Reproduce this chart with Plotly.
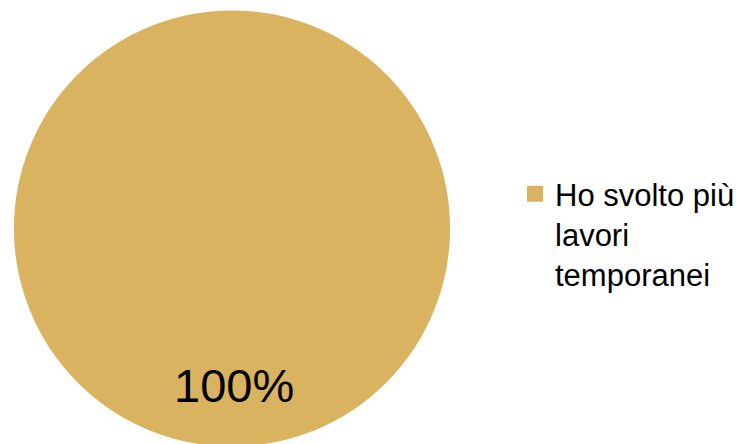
import plotly.graph_objects as go

labels = ["Ho svolto più<br>lavori<br>temporanei"]
values = [1]
colors = ["#DAB360"]

W, H = 742, 444
total = sum(values)
pct_text = [f"{v / total * 100:.0f}%" for v in values]

# page is drawn with an 8px offset; positions below are in figure pixels
fig = go.Figure(go.Pie(
    labels=labels,
    values=values,
    marker=dict(colors=colors, line=dict(color=colors[0], width=4)),
    textinfo="none",
    sort=False,
    direction="clockwise",
    domain=dict(x=[8 / W, 440 / W], y=[1 - 436.5 / H, 1 - 4.5 / H]),
    showlegend=True,
    hoverinfo="label+percent",
))

fig.add_annotation(
    text=pct_text[0], x=226 / W, y=1 - 377 / H, xref="paper", yref="paper",
    xanchor="center", yanchor="middle", showarrow=False,
    font=dict(family="Arial, Liberation Sans, sans-serif", size=47, color="#000000"),
)

fig.update_layout(
    width=W, height=H,
    margin=dict(l=0, r=0, t=0, b=0),
    paper_bgcolor="#FFFFFF",
    plot_bgcolor="#FFFFFF",
    font=dict(family="Arial, Liberation Sans, sans-serif", color="#000000"),
    legend=dict(
        x=507 / W, xanchor="left",
        y=1 - 159 / H, yanchor="top",
        valign="top",
        font=dict(size=31, color="#000000"),
        bgcolor="rgba(0,0,0,0)",
        borderwidth=0,
    ),
)

fig.write_html("out.html")
